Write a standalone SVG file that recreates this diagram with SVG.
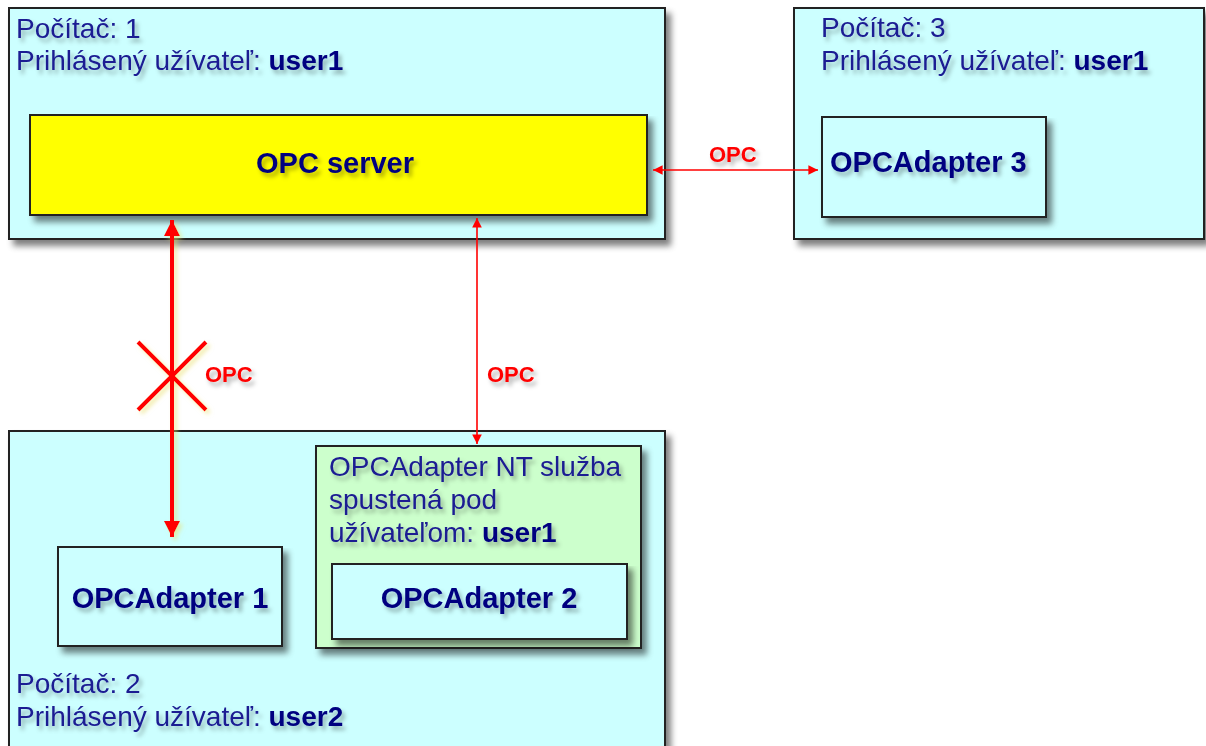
<svg xmlns="http://www.w3.org/2000/svg" width="1206" height="746" viewBox="0 0 1206 746">
  <defs>
    <filter id="boxShadow" x="-5%" y="-5%" width="115%" height="120%">
      <feGaussianBlur in="SourceAlpha" stdDeviation="3"/>
      <feOffset dx="5" dy="6" result="b"/>
      <feFlood flood-color="#000" flood-opacity="0.5"/>
      <feComposite in2="b" operator="in" result="s"/>
      <feMerge><feMergeNode in="s"/><feMergeNode in="SourceGraphic"/></feMerge>
    </filter>
    <filter id="textShadow" x="-10%" y="-30%" width="130%" height="180%">
      <feGaussianBlur in="SourceAlpha" stdDeviation="2"/>
      <feOffset dx="3" dy="4" result="b"/>
      <feFlood flood-color="#000" flood-opacity="0.3"/>
      <feComposite in2="b" operator="in" result="s"/>
      <feMerge><feMergeNode in="s"/><feMergeNode in="SourceGraphic"/></feMerge>
    </filter>
    <filter id="glow" x="-50%" y="-10%" width="200%" height="120%">
      <feGaussianBlur in="SourceAlpha" stdDeviation="2"/>
      <feOffset dx="3" dy="3" result="b"/>
      <feFlood flood-color="#e8e070" flood-opacity="0.6"/>
      <feComposite in2="b" operator="in" result="s"/>
      <feMerge><feMergeNode in="s"/><feMergeNode in="SourceGraphic"/></feMerge>
    </filter>
    <marker id="bigHead" viewBox="0 0 10 10" refX="10" refY="5" markerWidth="5" markerHeight="4" orient="auto-start-reverse" markerUnits="strokeWidth">
      <path d="M0,0 L10,5 L0,10 Z" fill="#ff0000"/>
    </marker>
    <marker id="smallHead" viewBox="0 0 10 10" refX="10" refY="5" markerWidth="7" markerHeight="6" orient="auto-start-reverse" markerUnits="strokeWidth">
      <path d="M0,0 L10,5 L0,10 Z" fill="#ff0000"/>
    </marker>
  </defs>
  <style>
    .box { stroke: #222; stroke-width: 2; filter: url(#boxShadow); }
    .pc { fill: #ccffff; }
    .srv { fill: #ffff00; }
    .svc { fill: #ccffcc; }
    .txt { font-family: "Liberation Sans", Arial, sans-serif; font-size: 28px; fill: #1a1a92; filter: url(#textShadow); }
    .b { font-weight: bold; fill: #000080; }
    .name { font-size: 29px; }
    .lbl { font-family: "Liberation Sans", Arial, sans-serif; font-size: 22px; font-weight: bold; fill: #ff0000; filter: url(#textShadow); }
    .thick { stroke: #ff0000; stroke-width: 4; fill: none; }
    .thin { stroke: #ff0000; stroke-width: 1.6; fill: none; }
  </style>

  <rect width="1206" height="746" fill="#ffffff"/>

  <!-- Computer 1 -->
  <g id="pc1">
    <rect class="box pc" x="9" y="8" width="656" height="231"/>
    <text class="txt" x="16" y="38">Počítač: 1</text>
    <text class="txt" x="16" y="70">Prihlásený užívateľ: <tspan class="b">user1</tspan></text>
  </g>

  <g id="opcServer">
    <rect class="box srv" x="30" y="115" width="617" height="100"/>
    <text class="txt b name" x="335" y="173" text-anchor="middle">OPC server</text>
  </g>

  <!-- Computer 3 -->
  <g id="pc3">
    <rect class="box pc" x="794" y="8" width="410" height="231"/>
    <text class="txt" x="821" y="37">Počítač: 3</text>
    <text class="txt" x="821" y="70">Prihlásený užívateľ: <tspan class="b">user1</tspan></text>
  </g>

  <g id="adapter3">
    <rect class="box pc" x="822" y="117" width="224" height="100"/>
    <text class="txt b name" x="830" y="172">OPCAdapter 3</text>
  </g>

  <!-- Computer 2 -->
  <g id="pc2">
    <rect class="box pc" x="9" y="431" width="656" height="330"/>
    <text class="txt" x="16" y="693">Počítač: 2</text>
    <text class="txt" x="16" y="726">Prihlásený užívateľ: <tspan class="b">user2</tspan></text>
  </g>

  <g id="adapter1">
    <rect class="box pc" x="58" y="547" width="224" height="99"/>
    <text class="txt b name" x="170" y="608" text-anchor="middle">OPCAdapter 1</text>
  </g>

  <g id="ntService">
    <rect class="box svc" x="316" y="446" width="325" height="202"/>
    <text class="txt" x="329" y="476">OPCAdapter NT služba</text>
    <text class="txt" x="329" y="509">spustená pod</text>
    <text class="txt" x="329" y="542">užívateľom: <tspan class="b">user1</tspan></text>
  </g>

  <g id="adapter2">
    <rect class="box pc" x="332" y="564" width="295" height="75"/>
    <text class="txt b name" x="479" y="608" text-anchor="middle">OPCAdapter 2</text>
  </g>

  <!-- OPC connections -->
  <g id="connectors">
    <g filter="url(#glow)">
      <line class="thick" x1="172" y1="220" x2="172" y2="537" marker-start="url(#bigHead)" marker-end="url(#bigHead)"/>
      <line class="thick" x1="138" y1="342" x2="206" y2="410"/>
      <line class="thick" x1="206" y1="342" x2="138" y2="410"/>
    </g>
    <text class="lbl" x="205" y="382">OPC</text>

    <line class="thin" x1="477" y1="218" x2="477" y2="444" marker-start="url(#smallHead)" marker-end="url(#smallHead)"/>
    <text class="lbl" x="487" y="382">OPC</text>

    <line class="thin" x1="653" y1="170" x2="818" y2="170" marker-start="url(#smallHead)" marker-end="url(#smallHead)"/>
    <text class="lbl" x="709" y="162">OPC</text>
  </g>
</svg>
